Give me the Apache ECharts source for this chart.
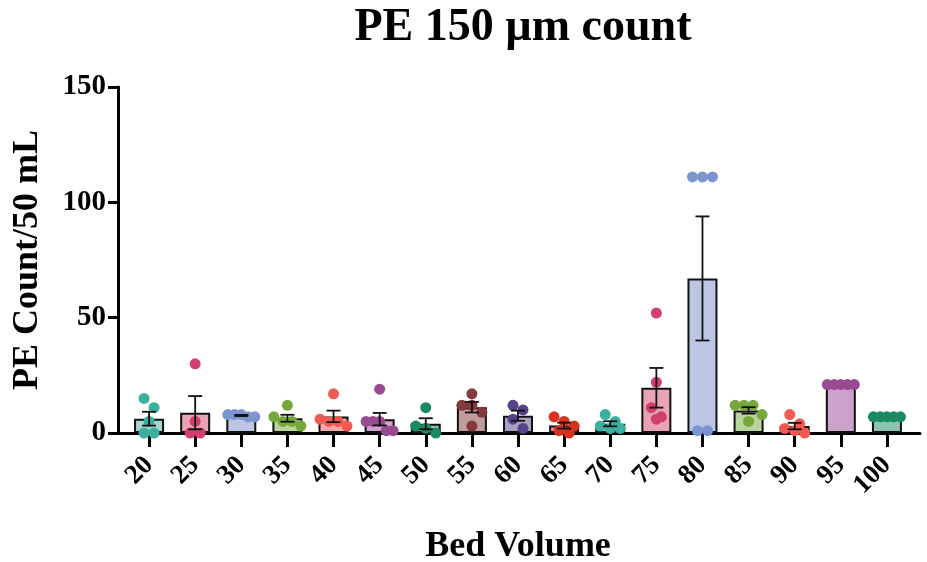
<!DOCTYPE html>
<html>
<head>
<meta charset="utf-8">
<script src="https://cdn.jsdelivr.net/npm/echarts@6/dist/echarts.min.js"></script>
<style>html,body{margin:0;padding:0;background:#fff;}#c{width:927px;height:562px;}</style>
</head>
<body>
<div id="c"></div>
<script>
// ---- data ----
const categories = ['20','25','30','35','40','45','50','55','60','65','70','75','80','85','90','95','100'];
const points = [
  [15, 11, 5, 0, 0],
  [30, 5, 0, 0],
  [8, 8, 8, 7, 7],
  [12, 7, 5, 5, 3],
  [17, 6, 5, 5, 3],
  [19, 5, 5, 5, 1, 1],
  [11, 3, 2, 0],
  [17, 12, 12, 9, 3],
  [12, 10, 6, 2],
  [7, 5, 3, 1, 0],
  [8, 5, 3, 2, 2],
  [52, 22, 11, 7, 6],
  [111, 111, 111, 1, 1],
  [12, 12, 12, 8, 5],
  [8, 4, 2, 1, 0],
  [21, 21, 21, 21, 21],
  [7, 7, 7, 7, 7]
];
const means = [6.2, 8.8, 7.6, 6.4, 7.2, 6.0, 4.0, 11.2, 7.5, 3.2, 4.0, 19.6, 67.0, 9.8, 3.0, 21.0, 7.0];
const sems  = [3.0, 7.2, 0.25, 1.5, 2.5, 2.7, 2.4, 2.3, 2.2, 1.3, 1.1, 8.6, 26.9, 1.4, 1.4, 0, 0];
const yTicks = [0, 50, 100, 150];

// ---- styles ----
const dotColors  = ['#3BB0A0','#D23F6C','#7C95D1','#78A83C','#F55A52','#9A4A91','#1A8A60','#843A3B','#56428B','#D8321F'];
const fillColors = ['#A4D8D0','#E8A3B5','#BAC6E4','#BAD49D','#F9A9A5','#CDA2C9','#8CC4AF','#C29C9D','#AAA0C5','#EC9990'];
const FONT = '"Liberation Serif", "Times New Roman", serif';
const DOT = 11;

const chart = echarts.init(document.getElementById('c'), null, {renderer: 'canvas'});

function baseOption(scatterData) {
  return {
    animation: false,
    backgroundColor: '#fff',
    textStyle: {fontFamily: FONT, fontWeight: 'bold', color: '#000'},
    title: {
      text: 'PE 150 µm count',
      left: 518, top: 0, textAlign: 'center',
      textStyle: {fontFamily: FONT, fontWeight: 'bold', fontSize: 46, color: '#000'}
    },
    grid: [
      {left: 118, top: 87, width: 802, height: 346, containLabel: false, outerBoundsMode: 'none'},
      {left: 126, top: 87, width: 784, height: 346, containLabel: false, outerBoundsMode: 'none'}
    ],
    xAxis: [
      {type: 'value', gridIndex: 0, min: 0, max: 1, show: true,
       axisLine: {show: true, lineStyle: {color: '#000', width: 3}},
       axisTick: {show: false}, axisLabel: {show: false}, splitLine: {show: false}},
      {type: 'category', gridIndex: 1, data: categories,
       name: 'Bed Volume', nameLocation: 'middle', nameGap: 96,
       nameTextStyle: {fontFamily: FONT, fontWeight: 'bold', fontSize: 36, color: '#000'},
       axisLine: {show: false},
       axisTick: {show: true, alignWithLabel: true, length: 14, lineStyle: {color: '#000', width: 3}},
       axisLabel: {rotate: 45, margin: 28, interval: 0, fontFamily: FONT, fontWeight: 'bold', fontSize: 27, color: '#000'}}
    ],
    yAxis: [
      {type: 'value', gridIndex: 0, min: yTicks[0], max: yTicks[yTicks.length - 1], interval: 50,
       name: 'PE Count/50 mL', nameLocation: 'middle', nameGap: 72, nameRotate: 90,
       nameTextStyle: {fontFamily: FONT, fontWeight: 'bold', fontSize: 36, color: '#000'},
       axisLine: {show: true, lineStyle: {color: '#000', width: 3}},
       axisTick: {show: true, length: 10, lineStyle: {color: '#000', width: 3}},
       axisLabel: {margin: 12, fontFamily: FONT, fontWeight: 'bold', fontSize: 29, color: '#000'},
       splitLine: {show: false}},
      {type: 'value', gridIndex: 1, min: yTicks[0], max: yTicks[yTicks.length - 1], interval: 50, show: false}
    ],
    series: [
      {type: 'bar', xAxisIndex: 1, yAxisIndex: 1, barWidth: 30, z: 2,
       data: means.map((m, i) => ({value: m, itemStyle: {color: fillColors[i % 10]}})),
       itemStyle: {borderColor: '#111', borderWidth: 2}},
      {type: 'scatter', xAxisIndex: 1, yAxisIndex: 1, symbol: 'circle', symbolSize: DOT, z: 3,
       itemStyle: {opacity: 1},
       data: scatterData},
      {type: 'custom', xAxisIndex: 1, yAxisIndex: 1, z: 4,
       data: means.map((m, i) => [i, m, sems[i]]),
       renderItem: function (params, api) {
         const i = api.value(0), m = api.value(1), s = api.value(2);
         if (!s) return null;
         const top = api.coord([i, m + s]);
         const bot = api.coord([i, Math.max(0, m - s)]);
         const hw = 7;
         const st = {stroke: '#111', lineWidth: 1.8};
         return {type: 'group', children: [
           {type: 'line', shape: {x1: top[0], y1: top[1], x2: bot[0], y2: bot[1]}, style: st},
           {type: 'line', shape: {x1: top[0] - hw, y1: top[1], x2: top[0] + hw, y2: top[1]}, style: st},
           {type: 'line', shape: {x1: bot[0] - hw, y1: bot[1], x2: bot[0] + hw, y2: bot[1]}, style: st}
         ]};
       }}
    ]
  };
}

chart.setOption(baseOption([]));

// beeswarm-style horizontal spreading, computed in pixel space through the axis scale
const pxPerUnit = chart.convertToPixel({yAxisIndex: 1}, 0) - chart.convertToPixel({yAxisIndex: 1}, 1);
const scatterData = [];
points.forEach((vals, i) => {
  const sorted = vals.slice().sort((a, b) => b - a);
  const rows = [];
  sorted.forEach(v => {
    const row = rows[rows.length - 1];
    if (row && (row[0] - v) * pxPerUnit < DOT * 0.85) row.push(v); else rows.push([v]);
  });
  rows.forEach(row => {
    const k = row.length;
    const step = k > 1 ? Math.min(10, 27 / (k - 1)) : 0;
    row.forEach((v, j) => {
      scatterData.push({value: [i, v], symbolOffset: [(j - (k - 1) / 2) * step, 0],
                        itemStyle: {color: dotColors[i % 10], opacity: 1}});
    });
  });
});
chart.setOption(baseOption(scatterData));
</script>
</body>
</html>
